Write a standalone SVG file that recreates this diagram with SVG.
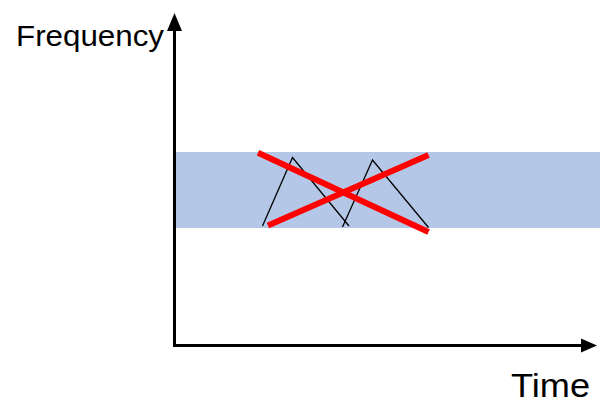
<svg xmlns="http://www.w3.org/2000/svg" width="607" height="411" viewBox="0 0 607 411">
<style>
.lbl{font-family:"Liberation Sans",Arial,sans-serif;fill:#000}
.axis{stroke:#000;stroke-width:3;fill:none}
.peak{stroke:#000;stroke-width:1.3;fill:none}
.cross{stroke:#FF0000;stroke-width:6;fill:none}
</style>
<rect width="607" height="411" fill="#fff"/>
<g id="band"><rect x="176" y="152" width="424" height="76" fill="#B4C7E7"/></g>
<g id="connectors">
<polyline class="axis" points="174.5,30 174.5,345.5 582,345.5"/>
<polygon points="174.5,13 182,31 167,31" fill="#000"/>
<polygon points="597,345.5 581,338.5 581,352.5" fill="#000"/>
</g>
<g id="peaks">
<polyline class="peak" points="262.5,226 292.5,157.5 349,226"/>
<polyline class="peak" points="342.5,227 372.5,160 428.5,227.5"/>
</g>
<g id="cross">
<line class="cross" x1="258" y1="152.7" x2="428.5" y2="232"/>
<line class="cross" x1="268" y1="225.5" x2="428.5" y2="155"/>
</g>
<g id="label-frequency"><text class="lbl" x="16" y="46" font-size="29" textLength="148" lengthAdjust="spacingAndGlyphs">Frequency</text></g>
<g id="label-time"><text class="lbl" x="511" y="397" font-size="33" textLength="79" lengthAdjust="spacingAndGlyphs">Time</text></g>
</svg>
